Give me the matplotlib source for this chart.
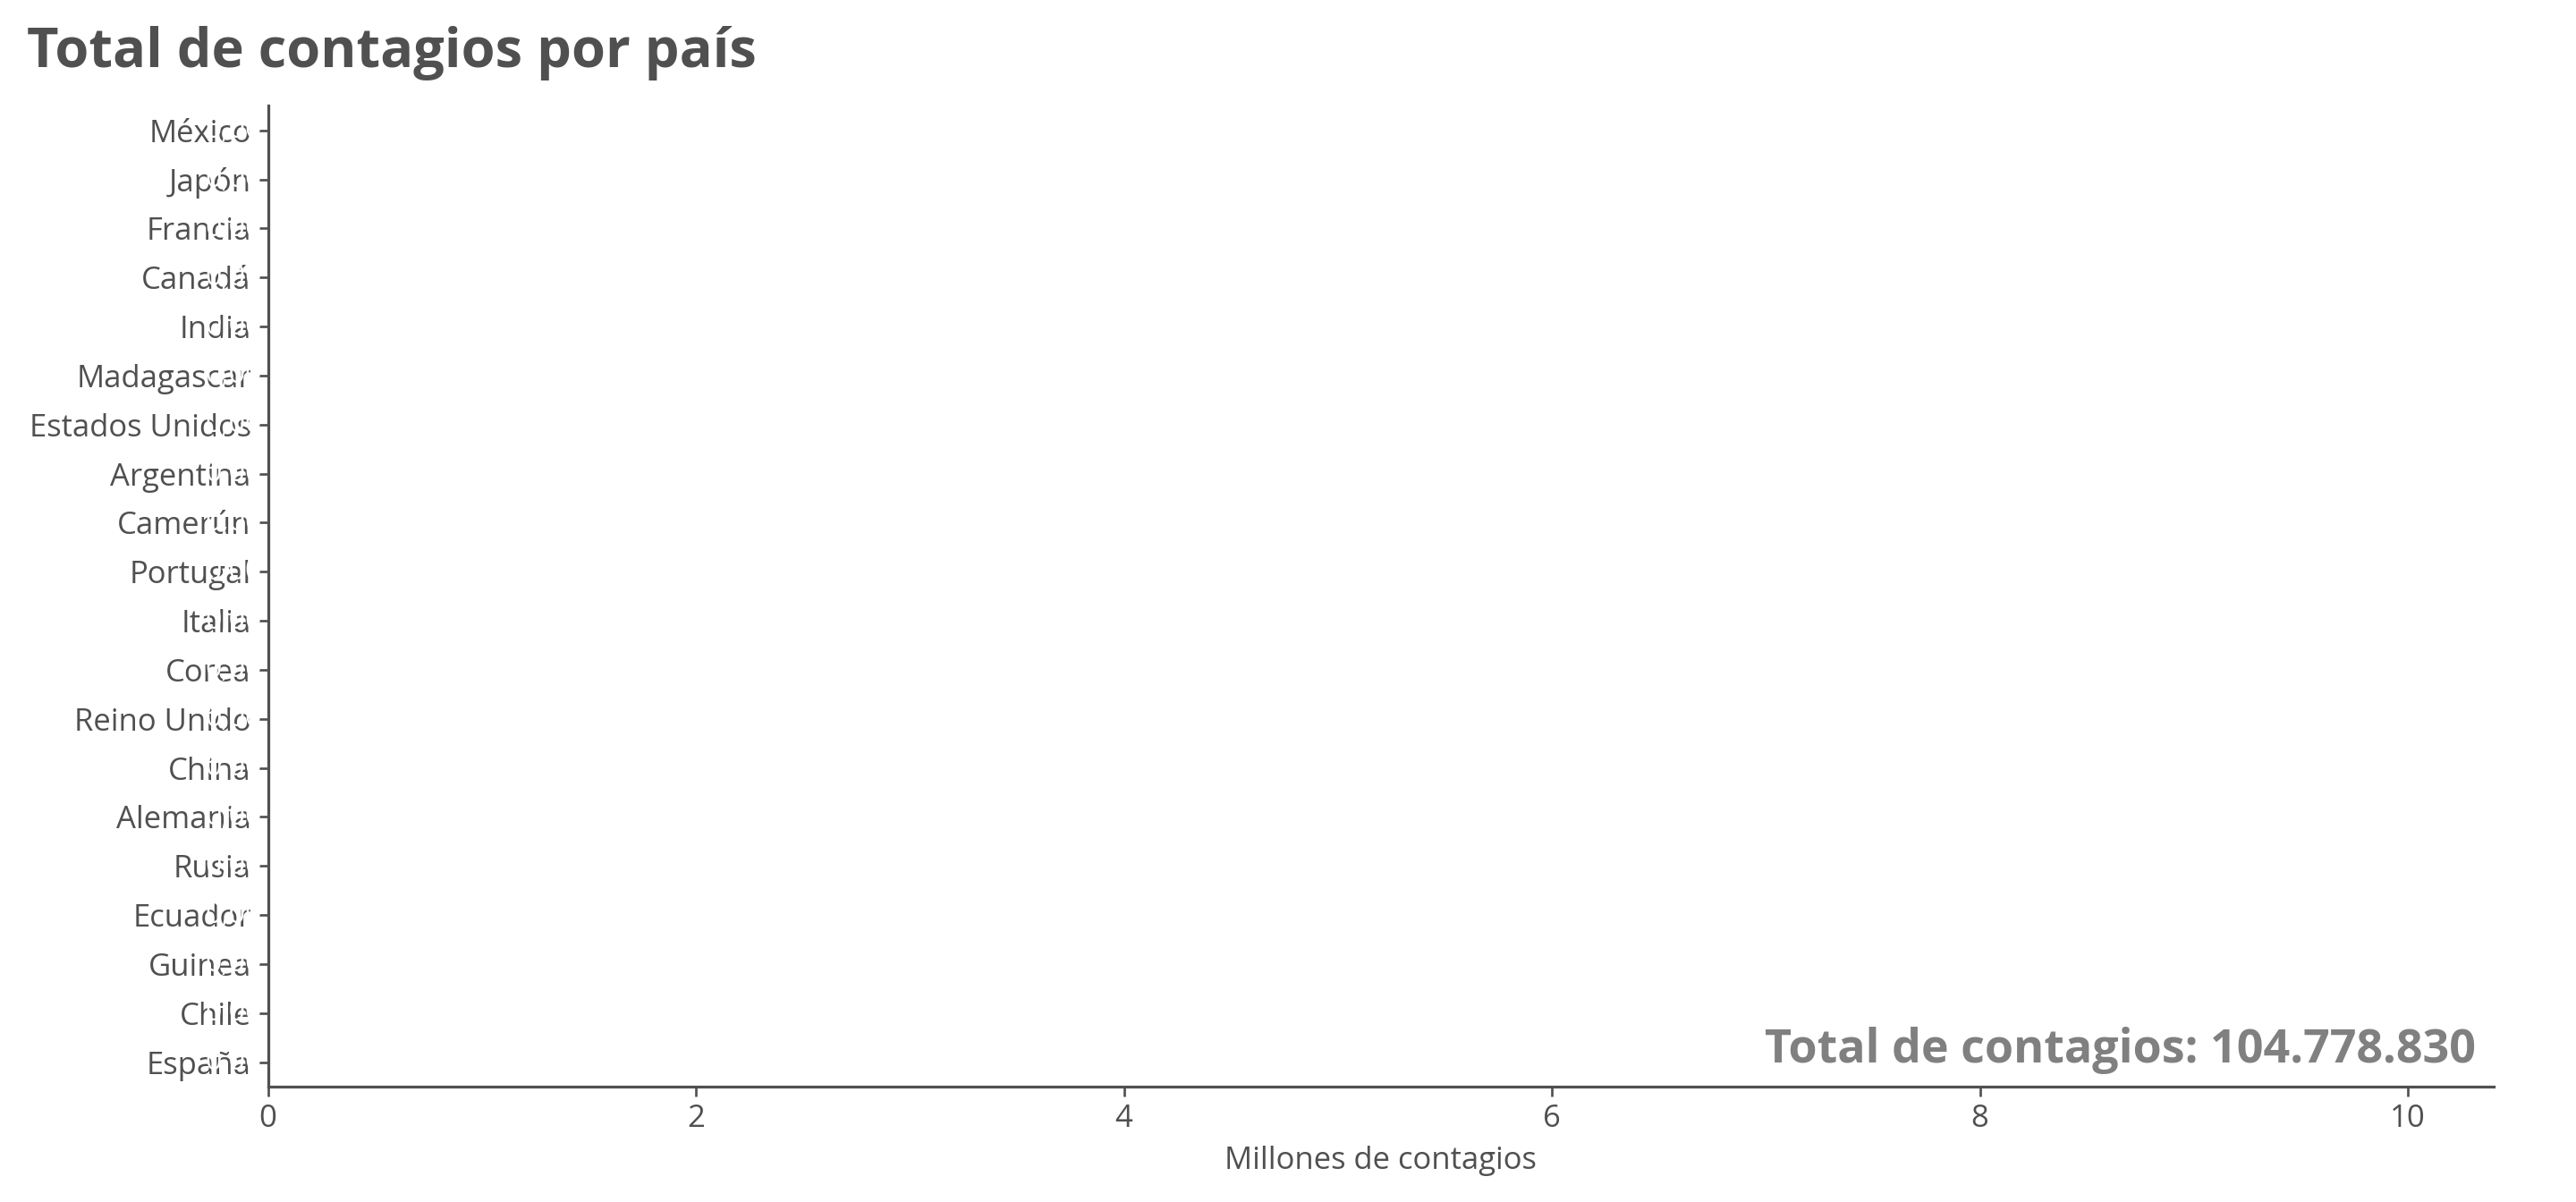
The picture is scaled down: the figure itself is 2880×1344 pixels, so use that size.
import matplotlib
matplotlib.use('agg')
import matplotlib.pyplot as plt
from matplotlib.transforms import offset_copy

# countries from bottom to top, as in the frame
paises = ['España', 'Chile', 'Guinea', 'Ecuador', 'Rusia', 'Alemania', 'China',
          'Reino Unido', 'Corea', 'Italia', 'Portugal', 'Camerún', 'Argentina',
          'Estados Unidos', 'Madagascar', 'India', 'Canadá', 'Francia', 'Japón', 'México']
# millions of cases in this frame (bars not grown yet)
contagios = [0.0] * len(paises)
total_contagios = 104778830
x_ticks = [0, 2, 4, 6, 8, 10]

gris = '#505050'
plt.rcParams['font.family'] = ['Open Sans', 'DejaVu Sans']
plt.rcParams['text.color'] = gris
plt.rcParams['axes.labelcolor'] = gris
plt.rcParams['xtick.color'] = gris
plt.rcParams['ytick.color'] = gris

fig = plt.figure(figsize=(15, 7), dpi=192)
ax = fig.add_axes([0.104, 0.096, 0.864, 0.816])

pos = list(range(len(paises)))
ax.barh(pos, contagios, height=0.8, color='#4c72b0')
ax.set_yticks(pos)
ax.set_yticklabels(paises, fontsize=13)
ax.set_xticks(x_ticks)
ax.set_xticklabels([str(t) for t in x_ticks], fontsize=13)
ax.set_xlim(0, 10.4)
ax.set_ylim(-0.5, 19.5)
ax.tick_params(axis='both', length=4, width=1, pad=3)

for s in ['top', 'right']:
    ax.spines[s].set_visible(False)
for s in ['left', 'bottom']:
    ax.spines[s].set_color(gris)
    ax.spines[s].set_linewidth(1.2)

ax.set_xlabel('Millones de contagios', fontsize=13, labelpad=5)

# value labels drawn in white at the end of each bar
trans = offset_copy(ax.transData, fig=fig, x=-7, y=0, units='dots')
for y, v in zip(pos, contagios):
    ax.text(v, y, f"{v:.2f}".replace('.', ','), color='white', ha='right', va='center',
            fontsize=12, transform=trans, clip_on=False)

total_txt = f"{total_contagios:,}".replace(',', '.')
ax.text(0.992, 0.025, f"Total de contagios: {total_txt}", transform=ax.transAxes,
        ha='right', va='baseline', fontsize=19.5, fontweight='bold', color='#808080')

fig.text(30 / 2880, 1 - 75 / 1344, 'Total de contagios por país', ha='left', va='baseline',
         fontsize=23, fontweight='bold', color=gris)

plt.savefig('out.png', dpi=192)
